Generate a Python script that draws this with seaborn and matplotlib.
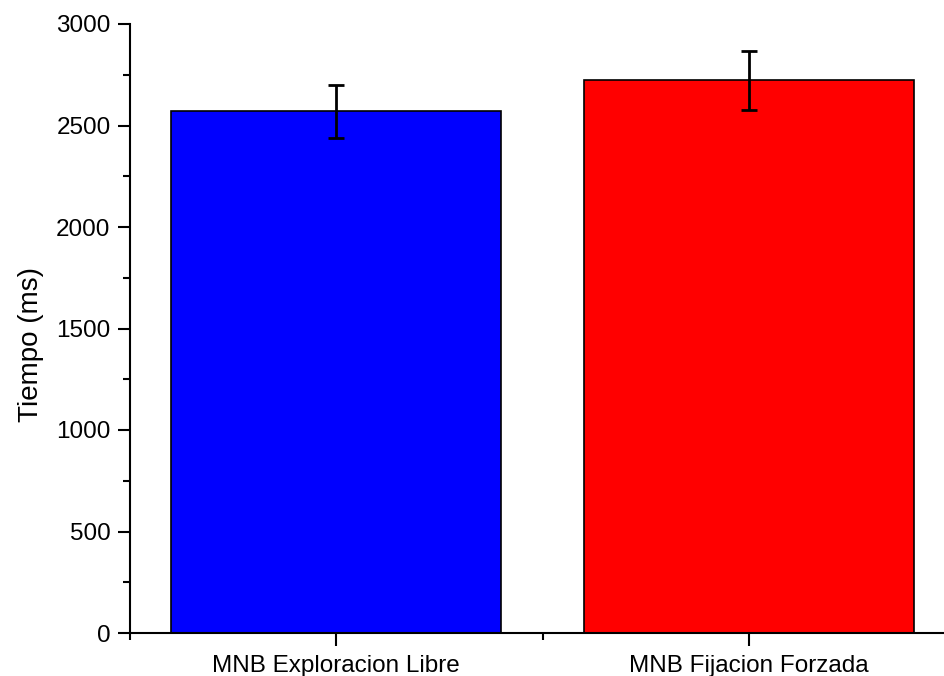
import matplotlib
matplotlib.use("Agg")
import matplotlib.pyplot as plt
import seaborn as sns
import pandas as pd
from matplotlib.ticker import MultipleLocator, FixedLocator

categories = ["MNB Exploracion Libre", "MNB Fijacion Forzada"]
values = [2570, 2722]
errors = [131, 145]
colors = ["#0000FF", "#FF0000"]

sns.set_style("ticks")
plt.rcParams['font.family'] = ['Liberation Sans', 'DejaVu Sans']

fig = plt.figure(figsize=(9.44, 6.76), dpi=100)
ax = fig.add_axes([130 / 944, 1 - 633 / 676, (955 - 130) / 944, (633 - 24) / 676])

df = pd.DataFrame({"cat": categories, "val": values})
sns.barplot(data=df, x="cat", y="val", hue="cat", palette=colors, width=0.8,
            edgecolor="black", linewidth=1.2, legend=False, ax=ax, saturation=1)
ax.errorbar(x=list(range(len(categories))), y=values, yerr=errors, fmt="none",
            ecolor="black", elinewidth=2, capsize=5.5, capthick=2)

ax.set_xlim(-0.5, 1.5)
ax.set_ylim(0, 3000)
ax.yaxis.set_major_locator(MultipleLocator(500))
ax.yaxis.set_minor_locator(MultipleLocator(250))
ax.xaxis.set_minor_locator(FixedLocator([-0.5, 0.5, 1.5]))

for s in ["top", "right"]:
    ax.spines[s].set_visible(False)
for s in ["left", "bottom"]:
    ax.spines[s].set_linewidth(1.5)
    ax.spines[s].set_color("black")

ax.tick_params(axis="both", which="major", direction="out", length=9, width=1.5,
               labelsize=17.5, pad=5, colors="black", labelcolor="black")
ax.tick_params(axis="x", which="major", pad=7)
ax.tick_params(axis="both", which="minor", direction="out", length=5, width=1.5, colors="black")

ax.set_xlabel("")
ax.set_ylabel("Tiempo (ms)", fontsize=20, color="black")
ax.yaxis.set_label_coords(-0.104, 0.473)

fig.savefig("out.png", dpi=100)
